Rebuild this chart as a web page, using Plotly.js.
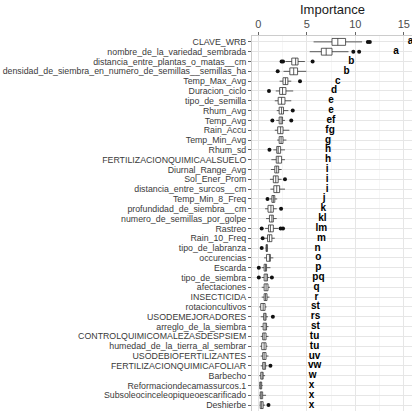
<!DOCTYPE html>
<html>
<head>
<meta charset="utf-8">
<script src="https://cdn.plot.ly/plotly-3.0.1.min.js"></script>
<style>html,body{margin:0;padding:0;background:#fff;}#chart{width:412px;height:411px;}</style>
</head>
<body>
<div id="chart"></div>
<script>
const categories = ["CLAVE_WRB","nombre_de_la_variedad_sembrada","distancia_entre_plantas_o_matas__cm","densidad_de_siembra_en_numero_de_semillas__semillas_ha","Temp_Max_Avg","Duracion_ciclo","tipo_de_semilla","Rhum_Avg","Temp_Avg","Rain_Accu","Temp_Min_Avg","Rhum_sd","FERTILIZACIONQUIMICAALSUELO","Diurnal_Range_Avg","Sol_Ener_Prom","distancia_entre_surcos__cm","Temp_Min_8_Freq","profundidad_de_siembra__cm","numero_de_semillas_por_golpe","Rastreo","Rain_10_Freq","tipo_de_labranza","occurencias","Escarda","tipo_de_siembra","afectaciones","INSECTICIDA","rotacioncultivos","USODEMEJORADORES","arreglo_de_la_siembra","CONTROLQUIMICOMALEZASDESPSIEM","humedad_de_la_tierra_al_sembrar","USODEBIOFERTILIZANTES","FERTILIZACIONQUIMICAFOLIAR","Barbecho","Reformaciondecamassurcos.1","Subsoleocinceleopiqueoescarificado","Deshierbe"];
const lowerWhisker = [5.7,5.3,2.8,2.6,2.2,1.8,1.7,1.9,1.85,1.7,1.95,1.55,1.35,1.3,1.2,1.25,1.2,0.7,0.8,0.7,0.7,0.75,0.6,0.35,0.35,0.35,0.35,0.1,0.25,0.25,0.25,0.2,0.25,0.25,0.1,0.1,0.1,0.15];
const q1Values = [7.6,6.5,3.45,3.25,2.55,2.2,2.05,2.15,2.15,2.0,2.15,1.9,1.85,1.7,1.55,1.6,1.4,1.0,1.15,1.05,0.95,0.8,0.85,0.6,0.6,0.6,0.6,0.25,0.55,0.5,0.45,0.35,0.45,0.45,0.25,0.15,0.2,0.2];
const medianValues = [8.2,7.0,3.85,3.65,2.8,2.5,2.4,2.4,2.35,2.3,2.35,2.05,2.05,1.9,1.8,1.9,1.55,1.3,1.4,1.25,1.15,0.8,1.15,0.75,0.8,0.8,0.75,0.5,0.7,0.7,0.6,0.6,0.6,0.6,0.4,0.25,0.25,0.35];
const q3Values = [9.0,7.6,4.1,4.05,3.05,2.85,2.75,2.6,2.5,2.55,2.55,2.3,2.4,2.1,2.05,2.2,1.7,1.55,1.55,1.55,1.4,0.95,1.25,0.85,0.95,1.0,0.9,0.7,0.8,0.85,0.8,0.8,0.8,0.75,0.5,0.35,0.45,0.5];
const upperWhisker = [10.7,9.3,4.8,4.95,3.4,3.6,3.4,3.1,2.75,3.2,2.9,2.75,2.75,2.4,2.4,2.75,1.95,1.9,1.9,2.05,1.7,1.0,1.55,1.25,1.15,1.2,1.15,0.85,1.0,1.05,1.05,0.95,1.05,0.95,0.7,0.45,0.8,0.7];
const outlierCategory = ["CLAVE_WRB","CLAVE_WRB","nombre_de_la_variedad_sembrada","nombre_de_la_variedad_sembrada","distancia_entre_plantas_o_matas__cm","distancia_entre_plantas_o_matas__cm","distancia_entre_plantas_o_matas__cm","densidad_de_siembra_en_numero_de_semillas__semillas_ha","Temp_Max_Avg","Duracion_ciclo","Rhum_Avg","Temp_Avg","Temp_Avg","Rhum_sd","Sol_Ener_Prom","Temp_Min_8_Freq","profundidad_de_siembra__cm","Rastreo","Rastreo","Rastreo","Rain_10_Freq","tipo_de_labranza","Escarda","tipo_de_siembra","tipo_de_siembra","USODEMEJORADORES","FERTILIZACIONQUIMICAFOLIAR","Deshierbe"];
const outlierValue = [11.3,11.5,9.8,10.4,2.4,2.55,5.6,2.0,4.3,1.1,3.55,1.45,3.4,1.15,2.75,0.95,2.35,0.35,2.3,2.55,0.45,0.35,0.05,0.05,1.4,1.5,1.25,1.05];
const groupLetters = ["a","a","b","b","c","d","e","e","ef","fg","g","h","h","i","i","i","j","k","kl","lm","m","n","o","p","pq","q","r","st","rs","st","tu","tu","uv","vw","w","x","x","x"];
const letterX = [15.7,14.2,9.6,9.1,8.2,7.8,7.5,7.5,7.5,7.4,7.2,7.2,7.2,7.1,7.1,7.1,6.8,6.7,6.6,6.5,6.5,6.1,6.2,6.2,6.2,6.0,6.0,5.9,5.9,5.9,5.8,5.8,5.8,5.8,5.6,5.5,5.5,5.5];
const xTicks = [0,5,10,15];

const boxTrace = {
  type: 'box', orientation: 'h',
  y: categories, q1: q1Values, median: medianValues, q3: q3Values,
  lowerfence: lowerWhisker, upperfence: upperWhisker,
  boxpoints: false, width: 0.7, whiskerwidth: 0,
  fillcolor: '#ffffff', line: {color: '#333333', width: 0.8},
  hoverinfo: 'x+y', showlegend: false
};
const outTrace = {
  type: 'scatter', mode: 'markers', x: outlierValue, y: outlierCategory,
  marker: {color: '#111111', size: 4}, showlegend: false
};
const letterTrace = {
  type: 'scatter', mode: 'text', x: letterX, y: categories, text: groupLetters,
  textposition: 'middle center', cliponaxis: false,
  textfont: {family: 'Liberation Sans, Arial, sans-serif', size: 10, color: '#000000', weight: 'bold'},
  showlegend: false
};

const layout = {
  width: 412, height: 411,
  margin: {l: 252, r: 0, t: 36, b: 0, pad: 0},
  paper_bgcolor: '#ffffff', plot_bgcolor: '#ffffff',
  font: {family: 'Liberation Sans, Arial, sans-serif', color: '#4d4d4d'},
  xaxis: {
    side: 'top', range: [-0.65, 15.85], tickvals: xTicks, ticktext: xTicks.map(String),
    showgrid: true, gridcolor: '#e6e6e6', gridwidth: 1,
    minor: {dtick: 2.5, tick0: 0, showgrid: true, gridcolor: '#f0f0f0', gridwidth: 0.6},
    ticks: 'outside', ticklen: 3, tickcolor: '#666', tickfont: {size: 11, color: '#4d4d4d'},
    showline: true, linecolor: '#cccccc', linewidth: 1, mirror: true, zeroline: false,
    automargin: false, fixedrange: true
  },
  yaxis: {
    type: 'category', categoryorder: 'array', categoryarray: categories,
    tickmode: 'array', tickvals: categories, ticktext: categories,
    range: [categories.length - 0.4, -0.6],
    showgrid: true, gridcolor: '#e6e6e6', gridwidth: 1,
    ticks: 'outside', ticklen: 3, tickcolor: '#666',
    tickfont: {family: 'Liberation Sans, Arial, sans-serif', size: 8.8, color: '#3a3a3a'},
    showline: true, linecolor: '#cccccc', mirror: true, zeroline: false,
    automargin: false, fixedrange: true
  },
  annotations: [{
    text: 'Importance', xref: 'paper', yref: 'paper', x: 0.5, y: 1,
    xanchor: 'center', yanchor: 'bottom', yshift: 17, showarrow: false,
    font: {size: 13, color: '#1a1a1a'}
  }]
};

Plotly.newPlot('chart', [boxTrace, outTrace, letterTrace], layout, {displayModeBar: false, staticPlot: true});
</script>
</body>
</html>
